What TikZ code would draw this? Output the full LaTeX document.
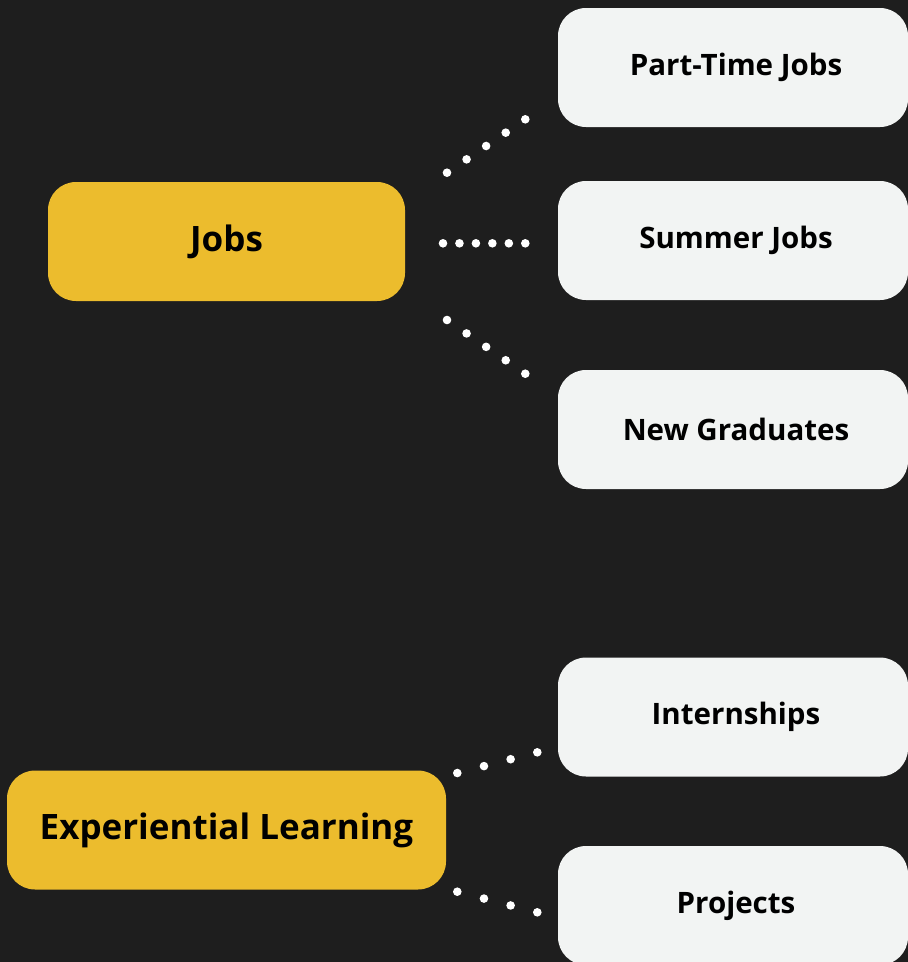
\documentclass[tikz,border=0pt]{standalone}
\usepackage{fontspec}
\setmainfont{Open Sans}
\usetikzlibrary{calc}
\definecolor{bgdark}{HTML}{1E1E1E}
\definecolor{ygold}{HTML}{ECBC2D}
\definecolor{offwhite}{HTML}{F2F4F3}
\begin{document}
\begin{tikzpicture}[x=1pt,y=-1pt,
  mainbox/.style={rectangle, rounded corners=28pt, fill=ygold, text=black,
    minimum height=119pt, inner sep=0pt, font=\fontsize{35}{41}\selectfont\bfseries},
  subbox/.style={rectangle, rounded corners=28pt, fill=offwhite, text=black,
    minimum width=350pt, minimum height=119pt, inner sep=0pt,
    execute at begin node=\hspace*{6pt},
    font=\fontsize{29.5}{35}\selectfont\bfseries},
  dotfill/.style={fill=white}]
\fill[bgdark] (0,0) rectangle (908,962);
\useasboundingbox (0,0) rectangle (908,962);

\node[mainbox, minimum width=357pt] (jobs) at (226.5,241.5) {Jobs};
\node[mainbox, minimum width=439pt] (exp) at (226.5,830) {Experiential Learning};

\node[subbox] (pt) at (733,67.5) {Part-Time Jobs};
\node[subbox] (sj) at (733,240.5) {Summer Jobs};
\node[subbox] (ng) at (733,429.5) {New Graduates};
\node[subbox] (in) at (733,717) {Internships};
\node[subbox] (pr) at (733,905.5) {Projects};

% connector end points
\coordinate (j1a) at (447,172.7);   \coordinate (j1b) at (525.3,119.3);
\coordinate (j2a) at (443,243.3);   \coordinate (j2b) at (525.3,243.3);
\coordinate (j3a) at (447,320);     \coordinate (j3b) at (525.3,373.7);
\coordinate (e1a) at (457.3,773);   \coordinate (e1b) at (537.3,752.3);
\coordinate (e2a) at (457.3,891.7); \coordinate (e2b) at (537.3,912.3);

\foreach \i in {0,...,4} \fill[dotfill] ($(j1a)!\i/4!(j1b)$) circle (4.3pt);
\foreach \i in {0,...,5} \fill[dotfill] ($(j2a)!\i/5!(j2b)$) circle (4.3pt);
\foreach \i in {0,...,4} \fill[dotfill] ($(j3a)!\i/4!(j3b)$) circle (4.3pt);
\foreach \i in {0,...,3} \fill[dotfill] ($(e1a)!\i/3!(e1b)$) circle (4.3pt);
\foreach \i in {0,...,3} \fill[dotfill] ($(e2a)!\i/3!(e2b)$) circle (4.3pt);
\end{tikzpicture}
\end{document}
